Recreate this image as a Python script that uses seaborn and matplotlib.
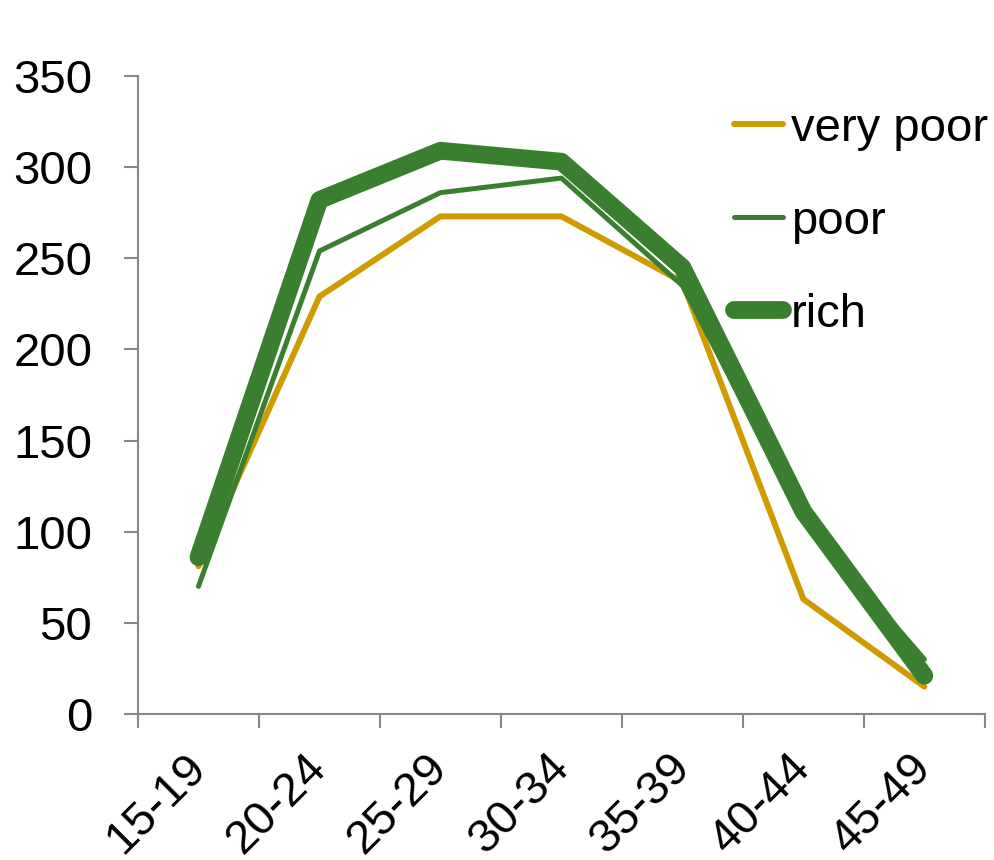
import matplotlib
matplotlib.use("Agg")
import matplotlib.pyplot as plt
import matplotlib.transforms as mtransforms
import seaborn as sns
import pandas as pd
import numpy as np

age_groups = ["15-19", "20-24", "25-29", "30-34", "35-39", "40-44", "45-49"]
very_poor = [81, 229, 273, 273, 237, 63, 15]
poor = [70, 254, 286, 294, 235, 107, 30]
rich = [86, 282, 309, 303, 245, 111, 21]

series = {"very poor": very_poor, "poor": poor, "rich": rich}
colors = {"very poor": "#D09B00", "poor": "#3A7F2F", "rich": "#3A7F2F"}
widths = {"very poor": 4.3, "poor": 3.6, "rich": 12.8}

rows = []
for name, vals in series.items():
    for i, v in enumerate(vals):
        rows.append({"pos": i, "age": age_groups[i], "value": v, "group": name})
df = pd.DataFrame(rows)

sns.set_theme(style="white")
plt.rcParams["font.family"] = ["Liberation Sans", "DejaVu Sans"]

FS = 34
fig = plt.figure(figsize=(9.94, 8.60), dpi=100)
ax = fig.add_axes([0.1388, 0.1698, 0.852, 0.7418])

for name in series:
    sub = df[df["group"] == name]
    sns.lineplot(data=sub, x="pos", y="value", ax=ax, color=colors[name],
                 linewidth=widths[name], label=name, sort=False,
                 solid_capstyle="round", solid_joinstyle="round")

ax.set_xlim(-0.5, 6.5)
ax.set_ylim(0, 350)
ax.set_yticks(np.arange(0, 351, 50))
ax.set_xticks(range(len(age_groups)))
ax.set_xticklabels(age_groups, rotation=45, ha="right", va="top",
                   rotation_mode="anchor")
ax.set_xticks(np.arange(-0.5, 7, 1), minor=True)
ax.tick_params(axis="x", which="major", length=0, pad=22.5, labelsize=FS,
               labelcolor="black")
ax.tick_params(axis="x", which="minor", length=10, width=1.5, color="#878787",
               direction="out", bottom=True)
ax.tick_params(axis="y", length=10, width=1.5, color="#878787", direction="out",
               left=True, labelsize=FS, pad=23, labelcolor="black")
ax.set_xlabel("")
ax.set_ylabel("")

# nudge the slanted category labels so their upper end sits under each group
shift = mtransforms.ScaledTranslation(-15 / 100, 0, fig.dpi_scale_trans)
for lab in ax.get_xticklabels():
    lab.set_transform(lab.get_transform() + shift)

for side in ["top", "right"]:
    ax.spines[side].set_visible(False)
for side in ["left", "bottom"]:
    ax.spines[side].set_color("#878787")
    ax.spines[side].set_linewidth(1.5)

leg = ax.legend(loc="upper left", bbox_to_anchor=(0.738, 0.876),
                bbox_transform=fig.transFigure, frameon=False,
                fontsize=FS, handlelength=1.04, handletextpad=0.17,
                labelspacing=1.04, borderaxespad=0, borderpad=0)
for line in leg.get_lines():
    line.set_solid_capstyle("round")
for txt in leg.get_texts():
    txt.set_color("black")

fig.savefig("out.png", dpi=100, facecolor="white")
